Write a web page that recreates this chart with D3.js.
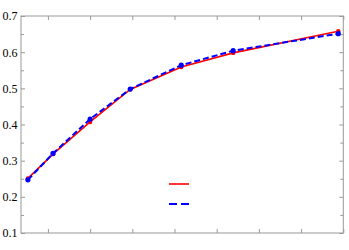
<!DOCTYPE html>
<html><head><meta charset="utf-8">
<script src="https://cdn.jsdelivr.net/npm/d3@7"></script>
<style>body{margin:0;background:#fff}svg{display:block}
.ylab text{font-family:"Liberation Serif","Times New Roman",Times,serif !important;font-size:12px !important;}</style>
</head><body>
<svg id="c" width="349" height="250"></svg>
<script>
const xValues = [0.525, 1.12, 2.0, 2.95, 4.16, 5.39, 7.88];
const redValues = [0.251, 0.318, 0.407, 0.497, 0.559, 0.598, 0.658];
const blueValues = [0.247, 0.320, 0.415, 0.498, 0.564, 0.604, 0.651];
const xTicks = [1, 2, 3, 4, 5, 6, 7, 8];
const yTicks = [0.1, 0.2, 0.3, 0.4, 0.5, 0.6, 0.7];
const yMinorTicks = [0.15, 0.25, 0.35, 0.45, 0.55, 0.65];

const svg = d3.select("#c");
const L = 21, R = 343.3, T = 16, B = 233;
const x = d3.scaleLinear().domain([0.362, 8]).range([L, R]);
const y = d3.scaleLinear().domain([0.1, 0.7]).range([B, T]);
const gray = "#999";

svg.append("rect").attr("x", L).attr("y", T).attr("width", R - L).attr("height", B - T)
  .attr("fill", "none").attr("stroke", gray).attr("stroke-width", 1);

const axL = d3.axisLeft(y).tickValues(yTicks).tickSize(-4).tickFormat(d3.format(".1f")).tickPadding(3.5);
const gL = svg.append("g").attr("class", "ylab").attr("transform", `translate(${L},0)`).call(axL)
  .attr("font-family", "Liberation Serif").attr("font-size", 12);
const axR = d3.axisRight(y).tickValues(yTicks).tickSize(-4).tickFormat("");
const gR = svg.append("g").attr("transform", `translate(${R},0)`).call(axR);
const axLm = d3.axisLeft(y).tickValues(yMinorTicks).tickSize(-3).tickFormat("");
const gLm = svg.append("g").attr("transform", `translate(${L},0)`).call(axLm);
const axRm = d3.axisRight(y).tickValues(yMinorTicks).tickSize(-3).tickFormat("");
const gRm = svg.append("g").attr("transform", `translate(${R},0)`).call(axRm);
const axB = d3.axisBottom(x).tickValues(xTicks).tickSize(-4).tickFormat("");
const gB = svg.append("g").attr("transform", `translate(0,${B})`).call(axB);
const axT = d3.axisTop(x).tickValues(xTicks).tickSize(-4).tickFormat("");
const gT = svg.append("g").attr("transform", `translate(0,${T})`).call(axT);
[gL, gR, gLm, gRm, gB, gT].forEach(g => {
  g.select(".domain").remove();
  g.selectAll(".tick line").attr("stroke", gray);
});
gL.selectAll(".tick text").attr("fill", "#000").attr("font-family", "Liberation Serif").attr("font-size", 12);

const redData = xValues.map((v, i) => [v, redValues[i]]);
const blueData = xValues.map((v, i) => [v, blueValues[i]]);
const line = d3.line().x(d => x(d[0])).y(d => y(d[1]));

svg.append("path").datum(redData).attr("d", line).attr("fill", "none")
  .attr("stroke", "#ff0000").attr("stroke-width", 1.6);
svg.selectAll(".rd").data(redData).enter().append("circle")
  .attr("cx", d => x(d[0])).attr("cy", d => y(d[1])).attr("r", 2.2).attr("fill", "#ff0000");
svg.append("path").datum(blueData).attr("d", line).attr("fill", "none")
  .attr("stroke", "#0000ff").attr("stroke-width", 2).attr("stroke-dasharray", "6,3");
svg.selectAll(".bd").data(blueData).enter().append("circle")
  .attr("cx", d => x(d[0])).attr("cy", d => y(d[1])).attr("r", 2.6).attr("fill", "#0000ff");

svg.append("line").attr("x1", 169).attr("x2", 189).attr("y1", 184).attr("y2", 184)
  .attr("stroke", "#ff0000").attr("stroke-width", 1.6);
svg.append("line").attr("x1", 169).attr("x2", 189).attr("y1", 204).attr("y2", 204)
  .attr("stroke", "#0000ff").attr("stroke-width", 2).attr("stroke-dasharray", "8,4");
</script>
</body></html>
